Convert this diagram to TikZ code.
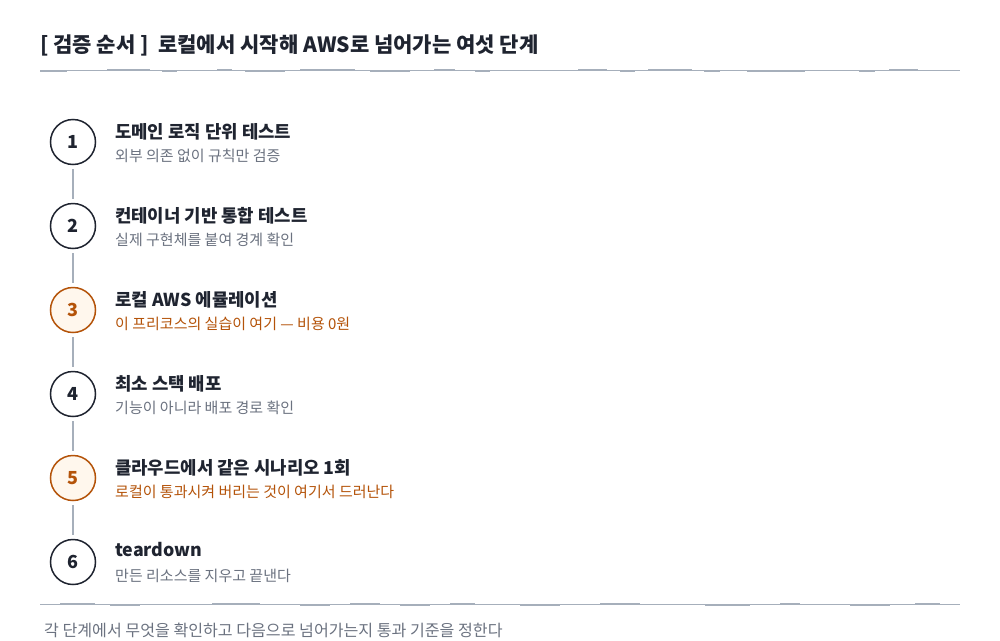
\documentclass[tikz,border=0pt]{standalone}
\usepackage{fontspec}
\setmainfont{Noto Sans CJK KR}
\definecolor{ink}{HTML}{1F2430}
\definecolor{mute}{HTML}{6B7280}
\definecolor{rule}{HTML}{A6AFBB}
\definecolor{hot}{HTML}{B45309}
\definecolor{hotbg}{HTML}{FFF7ED}
\tikzset{
  stepnum/.style={circle, draw=ink, line width=1.5pt, fill=white, minimum size=45pt, inner sep=0pt, font=\fontsize{18}{18}\selectfont\bfseries, text=ink},
  hotnum/.style={stepnum, draw=hot, fill=hotbg, text=hot},
  steptitle/.style={anchor=west, inner sep=0pt, font=\fontsize{17.8}{20}\selectfont\bfseries, text=ink},
  stepsub/.style={anchor=west, inner sep=0pt, font=\fontsize{15}{17}\selectfont, text=mute},
  hotsub/.style={stepsub, text=hot},
  link/.style={draw=rule, line width=1.5pt, shorten <=4pt, shorten >=4pt},
  sep/.style={draw=rule, line width=1.5pt},
  seppatch/.style={draw=rule, line width=1.4pt}
}
\begin{document}
\begin{tikzpicture}[x=1pt,y=-1pt]
\useasboundingbox[fill=white] (0,0) rectangle (1000,640);
\node[anchor=west, inner sep=0pt, font=\fontsize{21}{23}\selectfont\bfseries, text=ink] (head) at (40,45) {[ 검증 순서 ]\ \ 로컬에서 시작해 AWS로 넘어가는 여섯 단계};
\coordinate (s1a) at (40,70.5);
\coordinate (s1b) at (960,70.5);
\draw[sep] (s1a) -- (s1b);
\foreach \a/\b/\d in {40/67/0.7, 107/150/-0.7, 162/177/0.7, 217/232/-0.7, 245/285/0.7, 300/355/-0.7, 370/410/0.7, 434/455/-0.7, 475/490/0.7, 578/607/-0.7, 620/635/0.7, 648/692/-0.7, 704/720/0.7, 747/805/0.7, 859/875/0.7, 889/918/-0.7}
  \draw[seppatch] (\a,70.5+\d) -- (\b,70.5+\d);
\coordinate (s2a) at (40,604.5);
\coordinate (s2b) at (960,604.5);
\draw[sep] (s2a) -- (s2b);
\foreach \a/\b/\d in {60/95/-0.7, 110/140/0.7, 212/260/-0.7, 300/330/0.7, 350/380/-0.7, 400/430/0.7, 450/475/-0.7, 520/560/0.7, 600/640/-0.7, 705/750/0.7, 780/800/-0.7, 850/890/0.7, 915/940/-0.7}
  \draw[seppatch] (\a,604.5+\d) -- (\b,604.5+\d);

\node[stepnum] (n1) at (73,142) {1};
\node[stepnum] (n2) at (73,226) {2};
\node[hotnum] (n3) at (73,310) {3};
\node[stepnum] (n4) at (73,394) {4};
\node[hotnum] (n5) at (73,478) {5};
\node[stepnum] (n6) at (73,562) {6};

\draw[link] (n1.south) -- (n2.north);
\draw[link] (n2.south) -- (n3.north);
\draw[link] (n3.south) -- (n4.north);
\draw[link] (n4.south) -- (n5.north);
\draw[link] (n5.south) -- (n6.north);

\node[steptitle] (t1) at (115,132) {도메인 로직 단위 테스트};
\node[stepsub] (u1) at (115,156) {외부 의존 없이 규칙만 검증};
\node[steptitle] (t2) at (115,216) {컨테이너 기반 통합 테스트};
\node[stepsub] (u2) at (115,240) {실제 구현체를 붙여 경계 확인};
\node[steptitle] (t3) at (115,300) {로컬 AWS 에뮬레이션};
\node[hotsub] (u3) at (115,324) {이 프리코스의 실습이 여기 — 비용 0원};
\node[steptitle] (t4) at (115,384) {최소 스택 배포};
\node[stepsub] (u4) at (115,408) {기능이 아니라 배포 경로 확인};
\node[steptitle] (t5) at (115,468) {클라우드에서 같은 시나리오 1회};
\node[hotsub] (u5) at (115,492) {로컬이 통과시켜 버리는 것이 여기서 드러난다};
\node[steptitle] (t6) at (115,550) {teardown};
\node[stepsub] (u6) at (115,576) {만든 리소스를 지우고 끝낸다};

\node[anchor=west, inner sep=0pt, font=\fontsize{16.1}{18}\selectfont, text=mute] (foot) at (44,630) {각 단계에서 무엇을 확인하고 다음으로 넘어가는지 통과 기준을 정한다};
\end{tikzpicture}
\end{document}
